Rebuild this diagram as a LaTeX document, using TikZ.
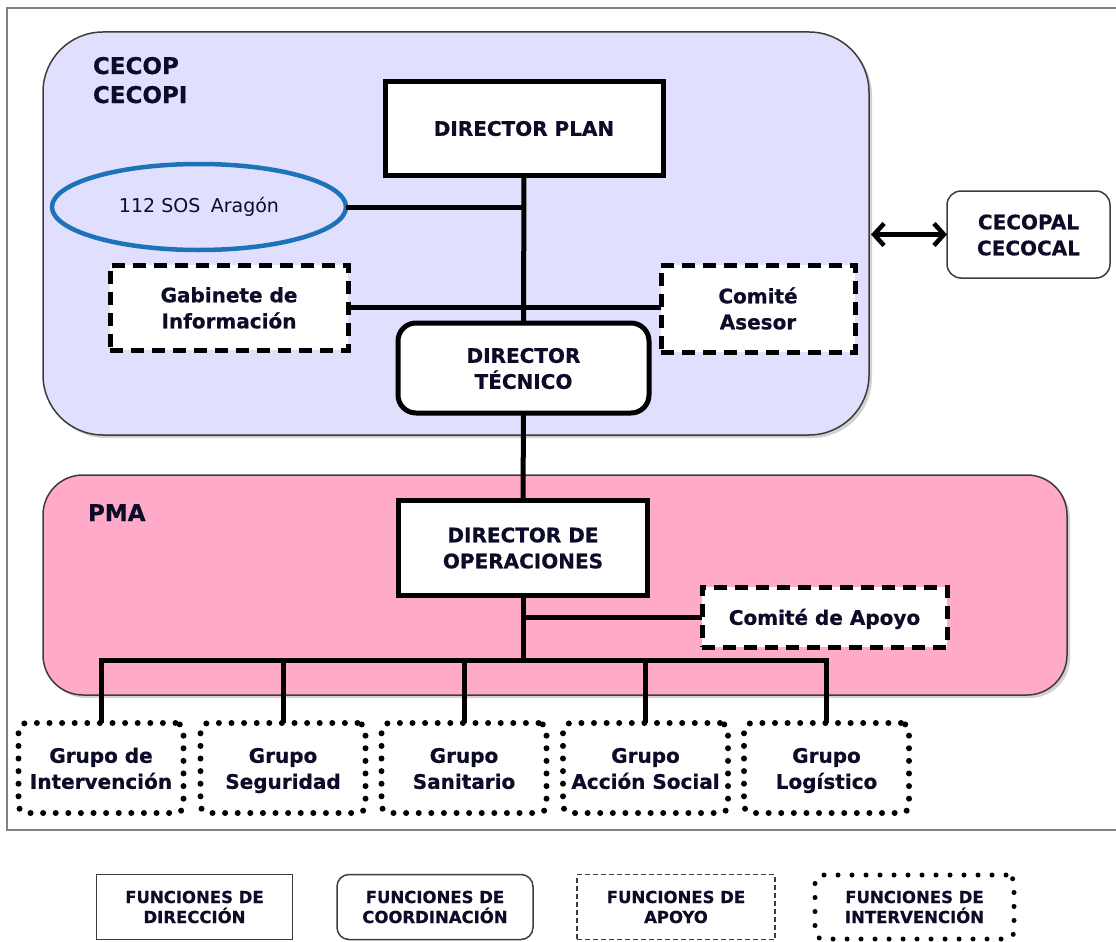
\documentclass[tikz,border=0pt]{standalone}
\usepackage{fontspec}
\setmainfont{DejaVu Sans}[BoldFeatures={FakeBold=0.6}]
\usetikzlibrary{shapes.geometric,arrows.meta,shadows}
\definecolor{lav}{RGB}{224,224,254}
\definecolor{pinkf}{RGB}{255,170,200}
\definecolor{ellblue}{RGB}{30,114,186}
\definecolor{txt}{RGB}{12,12,40}
\definecolor{framecol}{RGB}{130,130,130}
\definecolor{edgecol}{RGB}{60,60,60}
\newcommand{\sline}[1]{\rule[-5.2pt]{0pt}{26pt}#1}
\newcommand{\lline}[1]{\rule[-4pt]{0pt}{20pt}#1}
\begin{document}
\begin{tikzpicture}[x=1pt,y=-1pt,
  every node/.style={text=txt, align=center, inner sep=0pt, outer sep=0pt,
    font=\bfseries\fontsize{20}{26}\selectfont},
  region/.style={draw=edgecol, line width=1.5pt, rounded corners=#1,
    drop shadow={shadow xshift=3pt, shadow yshift=-3pt, opacity=0.35}},
  dirbox/.style={draw=black, fill=white, line width=5pt},
  coordbox/.style={draw=black, fill=white, line width=5pt, rounded corners=18pt},
  apoyobox/.style={draw=black, fill=white, line width=5pt, dash pattern=on 13pt off 8pt},
  grupobox/.style={draw=black, fill=white, line width=6pt, line cap=round,
    dash pattern=on 0pt off 12.6pt, rounded corners=8pt,
    minimum width=165pt, minimum height=90pt},
  link/.style={draw=black, line width=5pt},
  legbox/.style={fill=white, minimum width=196pt, minimum height=65pt,
    font=\bfseries\fontsize{16.5}{20}\selectfont},
  title/.style={anchor=base west, font=\bfseries\fontsize{23}{29}\selectfont}
]
\useasboundingbox (0,0) rectangle (1116,942);
\fill[white] (0,0) rectangle (1116,942);
% outer frame
\draw[framecol, line width=2pt] (1116,8) -- (7,8) -- (7,830) -- (1116,830);

% regions
\node[region=60pt, fill=lav, minimum width=826pt, minimum height=403pt] (cecop) at (456,233.5) {};
\node[region=40pt, fill=pinkf, minimum width=1024pt, minimum height=220pt] (pma) at (555,585) {};
\node[title] (lcecop) at (93,74) {CECOP};
\node[title] (lcecopi) at (93,103) {CECOPI};
\node[title] (lpma) at (88,521) {PMA};

% boxes
\node[dirbox, minimum width=278pt, minimum height=94pt] (plan) at (524,128) {\sline{DIRECTOR PLAN}};
\node[ellipse, draw=ellblue, fill=lav, line width=4.5pt, minimum width=294pt, minimum height=86pt,
  font=\fontsize{19}{24}\selectfont] (sos) at (199,207) {112 SOS\hspace{0.55em}Aragón};
\node[apoyobox, minimum width=238pt, minimum height=85pt] (gab) at (229,307.5) {\sline{Gabinete de}\\\sline{Información}};
\node[apoyobox, minimum width=194pt, minimum height=87pt] (asesor) at (758,308.5) {\sline{Comité}\\\sline{Asesor}};
\node[coordbox, minimum width=251pt, minimum height=90pt] (tecnico) at (523.5,368) {\sline{DIRECTOR}\\\sline{TÉCNICO}};
\node[draw=edgecol, fill=white, line width=1.5pt, rounded corners=14pt,
  minimum width=163pt, minimum height=87pt] (cecopal) at (1028.5,234.5) {\sline{CECOPAL}\\\sline{CECOCAL}};
\node[dirbox, minimum width=249pt, minimum height=95pt] (ops) at (523,547.5) {\sline{DIRECTOR DE}\\\sline{OPERACIONES}};
\node[apoyobox, minimum width=245pt, minimum height=60pt] (apoyo) at (824.5,617) {\sline{Comité de Apoyo}};

\node[grupobox] (g1) at (101,768) {\sline{Grupo de}\\\sline{Intervención}};
\node[grupobox] (g2) at (283,768) {\sline{Grupo}\\\sline{Seguridad}};
\node[grupobox] (g3) at (464,768) {\sline{Grupo}\\\sline{Sanitario}};
\node[grupobox] (g4) at (645.5,768) {\sline{Grupo}\\\sline{Acción Social}};
\node[grupobox] (g5) at (826.5,768) {\sline{Grupo}\\\sline{Logístico}};

% connectors
\draw[link] (plan.south) -- (tecnico.north);
\draw[link] (sos.east) -- (sos.east -| plan.south);
\draw[link] (gab.east) -- (gab.east -| asesor.west);
\draw[link] (tecnico.south) -- (ops.north);
\coordinate (bus) at (523,660);
\draw[link] (ops.south) -- (bus);
\draw[link] (apoyo.west -| ops.south) -- (apoyo.west);
\draw[link] (g1.north) |- (bus) -| (g5.north);
\draw[link] (g2.north) -- (g2.north |- bus);
\draw[link] (g3.north) -- (g3.north |- bus);
\draw[link] (g4.north) -- (g4.north |- bus);
\draw[link, line width=4.5pt, {Straight Barb[length=10pt,width=22pt]}-{Straight Barb[length=10pt,width=22pt]},
  shorten <=2pt] (cecop.east |- cecopal.west) -- (cecopal.west);

% legend
\node[legbox, draw=edgecol, line width=1.5pt] (leg1) at (194.5,907) {\lline{FUNCIONES DE}\\\lline{DIRECCIÓN}};
\node[legbox, draw=edgecol, line width=1.5pt, rounded corners=12pt] (leg2) at (435,907) {\lline{FUNCIONES DE}\\\lline{COORDINACIÓN}};
\node[legbox, draw=edgecol, line width=1.5pt, dash pattern=on 5pt off 3pt, minimum width=198pt] (leg3) at (676,907) {\lline{FUNCIONES DE}\\\lline{APOYO}};
\node[legbox, draw=black, line width=5pt, line cap=round, dash pattern=on 0pt off 14pt,
  rounded corners=8pt, minimum width=199pt, minimum height=64pt] (leg4) at (914.5,907) {\lline{FUNCIONES DE}\\\lline{INTERVENCIÓN}};
\end{tikzpicture}
\end{document}
